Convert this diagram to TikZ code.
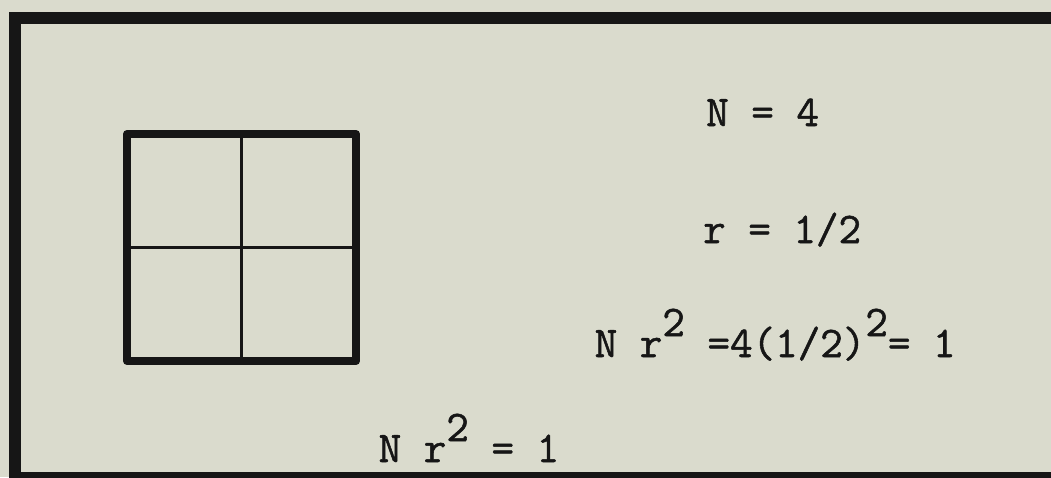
\documentclass[tikz,border=0pt]{standalone}
\usepackage{fontspec}
\newfontfamily\typewriter{Latin Modern Mono}[FakeBold=1.2]
\usetikzlibrary{positioning}
\definecolor{paper}{HTML}{DADBCD}
\definecolor{ink}{HTML}{161616}
\tikzset{
  eqn/.style={anchor=base west,inner sep=0pt,text=ink,
    font=\typewriter\fontsize{43.8}{46}\selectfont},
  frame/.style={draw=ink,line width=12pt},
  outline/.style={draw=ink,line width=8pt,line join=round},
  divider/.style={draw=ink,line width=3.5pt}
}
\newcommand{\sqd}{\raisebox{21pt}{2}}

\begin{document}
\begin{tikzpicture}[x=1pt,y=-1pt]
  % Page
  \fill[paper] (0,0) rectangle (1051,477);
  \clip (0,0) rectangle (1051,477);
  \draw[frame] (15,18) rectangle (1065,478);
  % Square split in four
  \draw[outline] (127,134) rectangle (356,361);
  \draw[divider] (241.5,134) -- (241.5,361);
  \draw[divider] (127,247.5) -- (356,247.5);
  % Equations
  \node[eqn] (count) at (706,126) {N = 4};
  \node[eqn] (ratio) at (703,243) {r = 1/2};
  \node[eqn] (check) at (594.5,357) {N r\sqd{} =4(1/2)\sqd= 1};
  \node[eqn] (rule) at (378.5,462) {N r\sqd{} = 1};
\end{tikzpicture}
\end{document}
